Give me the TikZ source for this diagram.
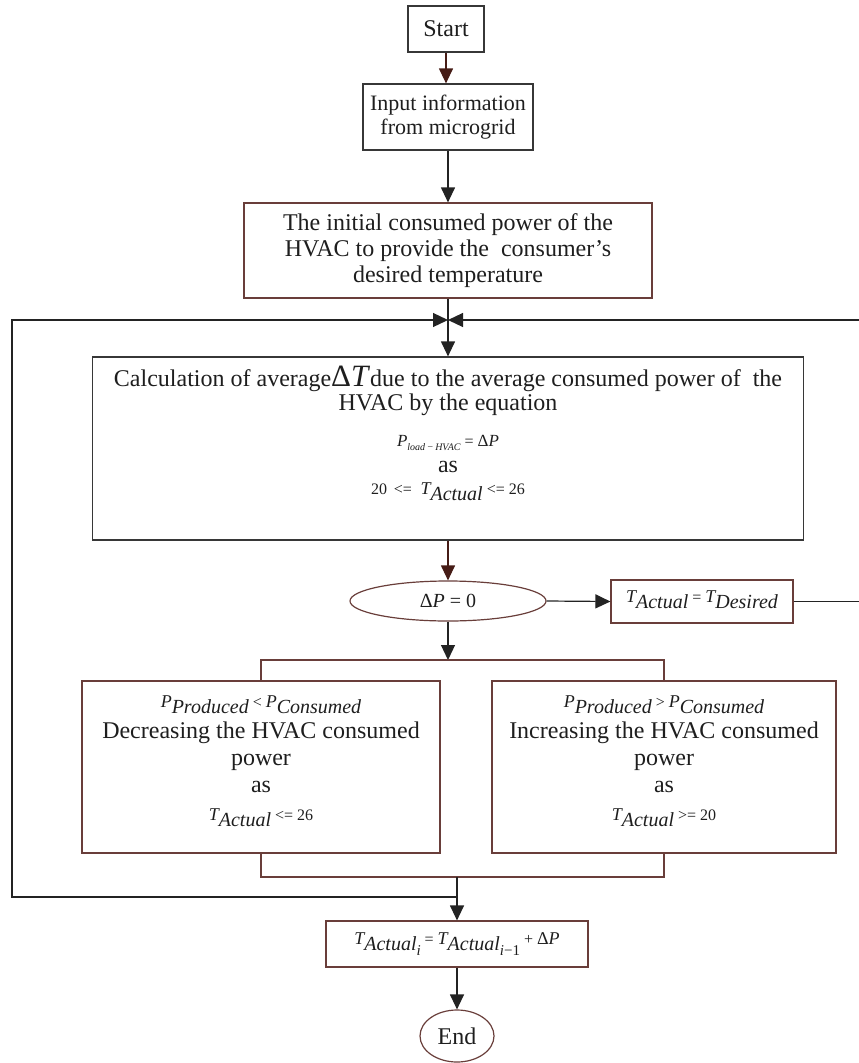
\documentclass[tikz,border=0pt]{standalone}
\usepackage{fontspec}
\setmainfont{Liberation Serif}
\usetikzlibrary{arrows.meta,shapes.geometric,calc}
\definecolor{brd}{RGB}{105,62,58}
\definecolor{gbrd}{RGB}{55,55,55}
\definecolor{lnc}{RGB}{35,35,35}
\definecolor{dln}{RGB}{70,28,22}
\definecolor{txc}{RGB}{30,30,30}
\newcommand{\Tsym}{{\fontsize{18bp}{18bp}\selectfont\itshape T}}
\newcommand{\Psym}{{\fontsize{18bp}{18bp}\selectfont\itshape P}}
\newcommand{\lowsub}[1]{\raisebox{-6bp}{\fontsize{20bp}{20bp}\selectfont\itshape #1}}
\newcommand{\rel}[1]{{\fontsize{16bp}{16bp}\selectfont\ #1\ }}
\newcommand{\TAct}{\Tsym\lowsub{Actual}}
\tikzset{
  base/.style={inner sep=0pt, text=txc, font=\fontsize{24bp}{26bp}\selectfont, align=center},
  boxg/.style={base, draw=gbrd, line width=1.2bp, rectangle},
  boxr/.style={base, draw=brd, line width=1.2bp, rectangle},
  ellr/.style={base, draw=brd, line width=1.2bp, ellipse},
  txt/.style={base},
  conn/.style={draw=lnc, line width=1.2bp},
  connr/.style={draw=brd, line width=1.2bp},
  tip/.style={-{Triangle[length=15bp,width=14bp]}}
}
\begin{document}
\begin{tikzpicture}[x=1bp,y=-1bp]
\useasboundingbox (0,0) rectangle (859,1063);
% nodes
\node[boxg, minimum width=76bp, minimum height=46bp] (start) at (446,29) {Start};
\node[boxg, minimum width=170bp, minimum height=66bp, font=\fontsize{22bp}{24bp}\selectfont] (input) at (448,117) {Input information\\from microgrid};
\node[boxr, minimum width=408bp, minimum height=95bp] (init) at (448,250.5) {The initial consumed power of the\\HVAC to provide the~ consumer’s\\desired temperature};
\node[boxg, minimum width=711bp, minimum height=183bp] (calc) at (448,448.5) {};
\node[txt, anchor=north, font=\fontsize{24bp}{24bp}\selectfont] (calctext) at (448,366) {Calculation of average{\fontsize{31bp}{31bp}\selectfont Δ\textit{T}}due to the average consumed power of~ the\\
HVAC by the equation\\[12bp]
{\fontsize{17bp}{17bp}\selectfont\itshape P}\raisebox{-4bp}{\fontsize{10bp}{10bp}\selectfont\itshape load\,−\,HVAC}\rel{=}{\fontsize{17bp}{17bp}\selectfont Δ\textit{P}}\\[2bp]
as\\[-2bp]
{\fontsize{16bp}{16bp}\selectfont 20 \,<=\,} \TAct\rel{<=}{\fontsize{16bp}{16bp}\selectfont 26}};
\node[ellr, minimum width=196bp, minimum height=40bp] (dec) at (448,601) {{\fontsize{20bp}{20bp}\selectfont Δ\textit{P} = 0}};
\node[boxr, minimum width=182bp, minimum height=43bp] (tdes) at (702,601.5) {\TAct\rel{=}\Tsym\lowsub{Desired}\rule[-9bp]{0pt}{1bp}};
\node[boxr, minimum width=358bp, minimum height=172bp] (left) at (261,767) {};
\node[txt, anchor=north, font=\fontsize{24bp}{27bp}\selectfont] (lefttext) at (261,696) {\Psym\lowsub{Produced}\rel{<}\Psym\lowsub{Consumed}\\[4bp]
Decreasing the HVAC consumed\\ power\\ as\\[1bp] \TAct\rel{<=}{\fontsize{16bp}{16bp}\selectfont 26}};
\node[boxr, minimum width=344bp, minimum height=172bp] (right) at (664,767) {};
\node[txt, anchor=north, font=\fontsize{24bp}{27bp}\selectfont] (righttext) at (664,696) {\Psym\lowsub{Produced}\rel{>}\Psym\lowsub{Consumed}\\[4bp]
Increasing the HVAC consumed\\ power\\ as\\[1bp] \TAct\rel{>=}{\fontsize{16bp}{16bp}\selectfont 20}};
\node[boxr, minimum width=262bp, minimum height=46bp] (final) at (457,944) {\Tsym\lowsub{Actual\raisebox{-5bp}{\fontsize{15bp}{15bp}\selectfont i}}\rel{=}\Tsym\lowsub{Actual\raisebox{-5bp}{\fontsize{15bp}{15bp}\selectfont i\upshape −1}}\rel{+}{\fontsize{18bp}{18bp}\selectfont Δ\textit{P}}\rule[-10bp]{0pt}{1bp}};
\node[ellr, minimum width=74bp, minimum height=52bp] (end) at (457,1036) {End};
% coordinates
\coordinate (M) at (448,320);
\coordinate (lc) at (12,320);
\coordinate (rc) at (862,320);
\coordinate (sp) at (448,660);
\coordinate (bj) at (457,877);
\coordinate (lb) at (457,897);
% connectors
\draw[conn, draw=dln, tip] (start.south) -- (start.south |- input.north);
\draw[conn, tip] (input.south) -- (init.north);
\draw[conn, tip] (init.south) -- (calc.north);
\draw[conn, tip] (lb) -| (lc) -- (M);
\draw[conn, tip] (tdes.east) -| (rc) -- (M);
\draw[conn, draw=dln, tip] (calc.south) -- (dec.north);
\draw[conn, tip] (dec.east) -- (tdes.west);
\draw[conn, tip] (dec.south) -- (sp);
\draw[connr] (left.north) |- (right.north |- sp) -- (right.north);
\draw[connr] (left.south) |- (bj) -| (right.south);
\draw[conn, tip] (bj) -- (final.north);
\draw[conn, tip] (final.south) -- (end.north);
\end{tikzpicture}
\end{document}
